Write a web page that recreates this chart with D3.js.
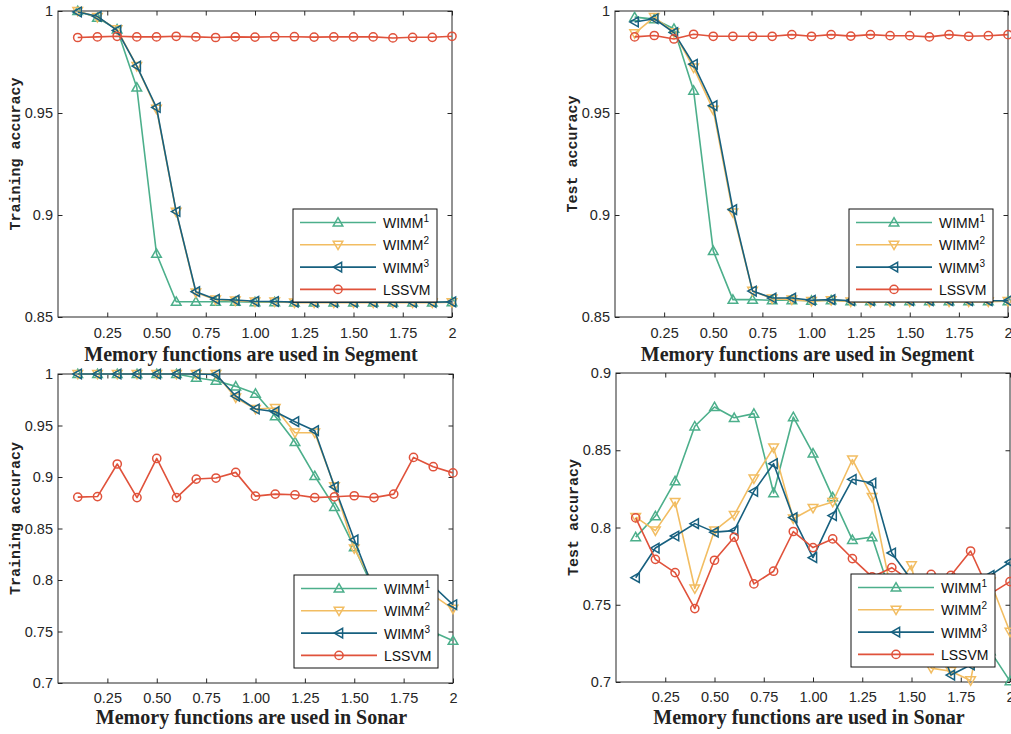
<!DOCTYPE html>
<html><head><meta charset="utf-8">
<script src="https://cdn.jsdelivr.net/npm/d3@7"></script>
<style>body{margin:0;background:#fff}svg{display:block}</style>
</head><body>
<svg id="chart" width="1011" height="734"></svg>
<script>
// ---------------- DATA ----------------
const xValues = [0.1,0.2,0.3,0.4,0.5,0.6,0.7,0.8,0.9,1.0,1.1,1.2,1.3,1.4,1.5,1.6,1.7,1.8,1.9,2.0];
const xTickValues = [0.25,0.5,0.75,1.0,1.25,1.5,1.75,2];
const xTickLabels = ["0.25","0.50","0.75","1.00","1.25","1.50","1.75","2"];
const seriesNames = ["WIMM","WIMM","WIMM","LSSVM"];
const seriesSup = ["1","2","3",""];

// Segment – training accuracy
const segTrainW1 = [1.000,0.9967,0.991,0.9625,0.881,0.8575,0.8575,0.8575,0.8575,0.8573,0.8573,0.8572,0.8572,0.8572,0.8572,0.8572,0.8572,0.8572,0.8572,0.8573];
const segTrainW2 = [1.000,0.997,0.991,0.973,0.952,0.9015,0.862,0.8585,0.858,0.8575,0.8575,0.857,0.857,0.857,0.857,0.857,0.857,0.857,0.857,0.8572];
const segTrainW3 = [0.9995,0.9974,0.9905,0.973,0.9527,0.9017,0.8624,0.8587,0.8583,0.8577,0.8576,0.8573,0.8572,0.8572,0.8572,0.8572,0.8572,0.8572,0.8572,0.8574];
const segTrainLS = [0.9870,0.9873,0.9876,0.9873,0.9873,0.9876,0.9873,0.9870,0.9873,0.9872,0.9874,0.9874,0.9872,0.9873,0.9873,0.9873,0.9868,0.9871,0.9871,0.9876];

// Segment – test accuracy
const segTestW1 = [0.997,0.996,0.9913,0.961,0.8824,0.8585,0.8585,0.8582,0.8582,0.858,0.8582,0.8578,0.8578,0.8578,0.8578,0.8578,0.8578,0.8578,0.8578,0.8578];
const segTestW2 = [0.989,0.997,0.9895,0.9722,0.9515,0.9012,0.8628,0.859,0.8585,0.8578,0.8582,0.8575,0.8572,0.8575,0.8575,0.8575,0.8575,0.8575,0.8575,0.8578];
const segTestW3 = [0.9946,0.9962,0.9894,0.9739,0.9536,0.9026,0.8627,0.8593,0.8593,0.8582,0.8585,0.858,0.858,0.858,0.858,0.858,0.858,0.858,0.858,0.858];
const segTestLS = [0.9873,0.988,0.9863,0.9886,0.9876,0.9876,0.9876,0.9876,0.9884,0.9876,0.9884,0.9877,0.9884,0.9879,0.9879,0.9873,0.9884,0.9876,0.9879,0.9884];

// Sonar – training accuracy
const sonTrainW1 = [1,1,1,1,1,1,0.9964,0.9935,0.988,0.981,0.959,0.934,0.901,0.871,0.832,0.79,0.773,0.76,0.7495,0.741];
const sonTrainW2 = [1,1,1,1,1,1,1,1,0.977,0.966,0.967,0.943,0.943,0.891,0.8306,0.795,0.79,0.787,0.785,0.772];
const sonTrainW3 = [1,1,1,1,1,1,1,0.9995,0.9786,0.966,0.9634,0.9537,0.945,0.8905,0.839,0.79,0.792,0.795,0.794,0.776];
const sonTrainLS = [0.8805,0.881,0.9126,0.880,0.918,0.880,0.898,0.899,0.9045,0.8814,0.8834,0.8827,0.880,0.8808,0.8818,0.880,0.8834,0.919,0.910,0.904];

// Sonar – test accuracy
const sonTestW1 = [0.7938,0.8074,0.830,0.8655,0.878,0.871,0.8737,0.8223,0.8715,0.848,0.8197,0.792,0.7938,0.755,0.745,0.74,0.735,0.73,0.72,0.7006];
const sonTestW2 = [0.8067,0.798,0.8165,0.7605,0.798,0.808,0.8316,0.8517,0.8057,0.8126,0.8165,0.844,0.8197,0.757,0.7755,0.709,0.707,0.701,0.765,0.7324];
const sonTestW3 = [0.7675,0.7867,0.7945,0.8025,0.797,0.798,0.8234,0.8413,0.8064,0.7805,0.8077,0.8312,0.8288,0.7835,0.766,0.74,0.7045,0.711,0.769,0.7775];
const sonTestLS = [0.8062,0.7794,0.7708,0.7475,0.7788,0.7937,0.7635,0.7717,0.7974,0.787,0.7926,0.7799,0.768,0.774,0.765,0.7696,0.769,0.7848,0.757,0.765];

const yTicksSeg = [0.85,0.9,0.95,1];
const yTickLabelsSeg = ["0.85","0.9","0.95","1"];
const yTicksSonTrain = [0.7,0.75,0.8,0.85,0.9,0.95,1];
const yTickLabelsSonTrain = ["0.7","0.75","0.8","0.85","0.9","0.95","1"];
const yTicksSonTest = [0.7,0.75,0.8,0.85,0.9];
const yTickLabelsSonTest = ["0.7","0.75","0.8","0.85","0.9"];

// ---------------- STYLE ----------------
const colors = ["#4caf8b","#f2bd62","#17607f","#e0523b"];
const markers = ["up","down","left","circle"];
const axisColor = "#262626";

const panels = [
  {left:58, right:452, top:11, bottom:317, yDomain:[0.85,1], yTicks:yTicksSeg, yLabels:yTickLabelsSeg,
   series:[segTrainW1,segTrainW2,segTrainW3,segTrainLS], ylabel:"Training accuracy",
   xlabel:"Memory functions are used in Segment", xlabelY:361, pad:11},
  {left:615, right:1008, top:11, bottom:317, yDomain:[0.85,1], yTicks:yTicksSeg, yLabels:yTickLabelsSeg,
   series:[segTestW1,segTestW2,segTestW3,segTestLS], ylabel:"Test accuracy",
   xlabel:"Memory functions are used in Segment", xlabelY:361, pad:11},
  {left:58, right:453, top:374, bottom:683, yDomain:[0.7,1], yTicks:yTicksSonTrain, yLabels:yTickLabelsSonTrain,
   series:[sonTrainW1,sonTrainW2,sonTrainW3,sonTrainLS], ylabel:"Training accuracy",
   xlabel:"Memory functions are used in Sonar", xlabelY:724, pad:10},
  {left:616, right:1010, top:373, bottom:682, yDomain:[0.7,0.9], yTicks:yTicksSonTest, yLabels:yTickLabelsSonTest,
   series:[sonTestW1,sonTestW2,sonTestW3,sonTestLS], ylabel:"Test accuracy",
   xlabel:"Memory functions are used in Sonar", xlabelY:724, pad:10}
];

const svg = d3.select("#chart");
svg.append("rect").attr("width",1011).attr("height",734).attr("fill","#fff");

function markerPath(type){
  const s = 4.8;
  if(type==="up") return `M0,${-s} L${s},${s*0.75} L${-s},${s*0.75} Z`;
  if(type==="down") return `M0,${s} L${s},${-s*0.75} L${-s},${-s*0.75} Z`;
  if(type==="left") return `M${-s},0 L${s*0.75},${-s} L${s*0.75},${s} Z`;
  return null;
}
function drawMarker(g, type, color){
  if(type==="circle"){
    g.append("circle").attr("r",4.1).attr("fill","none").attr("stroke",color).attr("stroke-width",1.5);
  } else {
    g.append("path").attr("d",markerPath(type)).attr("fill","none").attr("stroke",color)
      .attr("stroke-width",1.5).attr("stroke-linejoin","miter");
  }
}

panels.forEach(p=>{
  const x = d3.scaleLinear().domain([0,2]).range([p.left,p.right]);
  const y = d3.scaleLinear().domain(p.yDomain).range([p.bottom,p.top]);
  const g = svg.append("g");
  const fmtX = d => xTickLabels[xTickValues.indexOf(d)];
  const fmtY = d => p.yLabels[p.yTicks.indexOf(d)];

  // axes
  const ax = g.append("g").attr("transform",`translate(0,${p.bottom})`)
    .call(d3.axisBottom(x).tickValues(xTickValues).tickFormat(fmtX).tickSizeInner(-4.5).tickSizeOuter(0).tickPadding(p.pad));
  const axT = g.append("g").attr("transform",`translate(0,${p.top})`)
    .call(d3.axisTop(x).tickValues(xTickValues).tickFormat("").tickSizeInner(-4.5).tickSizeOuter(0));
  const ay = g.append("g").attr("transform",`translate(${p.left},0)`)
    .call(d3.axisLeft(y).tickValues(p.yTicks).tickFormat(fmtY).tickSizeInner(-4.5).tickSizeOuter(0).tickPadding(5));
  const ayR = g.append("g").attr("transform",`translate(${p.right},0)`)
    .call(d3.axisRight(y).tickValues(p.yTicks).tickFormat("").tickSizeInner(-4.5).tickSizeOuter(0));
  [ax,axT,ay,ayR].forEach(a=>{
    a.select(".domain").remove();
    a.selectAll("line").attr("stroke",axisColor).attr("stroke-width",1);
    a.selectAll("text").attr("fill",axisColor).style("font-family","'Liberation Sans', Arial, sans-serif").style("font-size","14.5px");
  });
  g.append("rect").attr("x",p.left).attr("y",p.top).attr("width",p.right-p.left).attr("height",p.bottom-p.top)
    .attr("fill","none").attr("stroke",axisColor).attr("stroke-width",1);

  // series
  const line = d3.line().x((d,i)=>x(xValues[i])).y(d=>y(d));
  p.series.forEach((vals,si)=>{
    const sg = g.append("g");
    sg.append("path").datum(vals).attr("d",line).attr("fill","none")
      .attr("stroke",colors[si]).attr("stroke-width",1.6).attr("stroke-linejoin","round");
    vals.forEach((v,i)=>{
      const mg = sg.append("g").attr("transform",`translate(${x(xValues[i])},${y(v)})`);
      drawMarker(mg, markers[si], colors[si]);
    });
  });

  // legend
  const lw = 144, lh = 93;
  const lx = p.right - 15 - lw, ly = p.bottom - 15 - lh;
  const lg = g.append("g").attr("transform",`translate(${lx},${ly})`);
  lg.append("rect").attr("width",lw).attr("height",lh).attr("fill","#fff").attr("stroke","#111").attr("stroke-width",1);
  seriesNames.forEach((name,si)=>{
    const ry = 13.5 + si*22.3;
    lg.append("line").attr("x1",7).attr("x2",83).attr("y1",ry).attr("y2",ry)
      .attr("stroke",colors[si]).attr("stroke-width",1.6);
    const mg = lg.append("g").attr("transform",`translate(45,${ry})`);
    drawMarker(mg, markers[si], colors[si]);
    const t = lg.append("text").attr("x",90).attr("y",ry+5.5).attr("fill","#111")
      .style("font-family","'Liberation Sans', Arial, sans-serif").style("font-size","14px");
    t.append("tspan").text(name);
    if(seriesSup[si]) t.append("tspan").attr("dy",-6).style("font-size","10px").text(seriesSup[si]);
  });

  // axis titles
  g.append("text").attr("x",(p.left+p.right)/2 - 4).attr("y",p.xlabelY).attr("text-anchor","middle")
    .attr("fill","#222").style("font-family","'Liberation Serif','Times New Roman',serif")
    .style("font-weight","bold").style("font-size","20px").text(p.xlabel);
  const cy = (p.top+p.bottom)/2 - 10;
  g.append("text").attr("transform",`translate(${p.left-38},${cy}) rotate(-90)`).attr("text-anchor","middle")
    .attr("fill","#222").style("font-family","'Liberation Mono','Courier New',monospace")
    .style("font-weight","bold").style("font-size","15px").text(p.ylabel);
});
</script>
</body></html>
